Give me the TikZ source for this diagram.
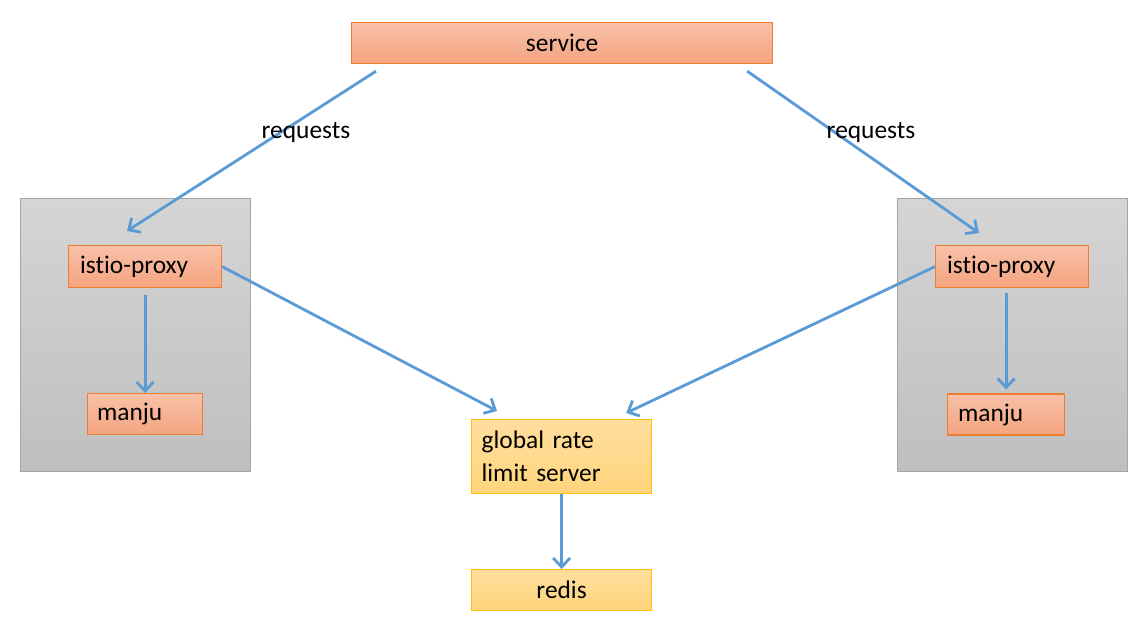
\documentclass[tikz,border=0pt]{standalone}
\usepackage{fontspec}
\setmainfont[Ligatures=NoCommon]{Carlito}
\usetikzlibrary{arrows.meta,calc}
\definecolor{boxtop}{HTML}{F8C1A8}
\definecolor{boxbot}{HTML}{F4A47F}
\definecolor{boxline}{HTML}{ED7D31}
\definecolor{podtop}{HTML}{D5D5D5}
\definecolor{podbot}{HTML}{BFBFBF}
\definecolor{podline}{HTML}{A5A5A5}
\definecolor{srvtop}{HTML}{FFDE9E}
\definecolor{srvbot}{HTML}{FFD57C}
\definecolor{srvline}{HTML}{FFC000}
\definecolor{flowblue}{HTML}{5B9BD5}
\begin{document}
\begin{tikzpicture}[x=0.5pt,y=-0.5pt,
    font=\fontsize{12.7}{16.5}\selectfont,
    box/.style={draw=boxline,line width=0.6pt,top color=boxtop,bottom color=boxbot,anchor=north west,inner sep=0pt},
    pod/.style={draw=podline,line width=0.6pt,top color=podtop,bottom color=podbot,anchor=north west,inner sep=0pt},
    srv/.style={draw=srvline,line width=0.6pt,top color=srvtop,bottom color=srvbot,anchor=north west,inner sep=0pt},
    flow/.style={draw=flowblue,line width=1.4pt,-{Straight Barb[length=4.5pt,width=8.5pt]}}]
    \fill[white] (0,0) rectangle (1146,624);
    \useasboundingbox (0,0) rectangle (1146,624);
    \node[box,minimum width=210.5pt,minimum height=20.5pt] (service) at (351,22) {service};
    \node[pod,minimum width=115pt,minimum height=136.5pt] (lpod) at (20,198) {};
    \node[pod,minimum width=115pt,minimum height=136.5pt] (rpod) at (897,198) {};
    \node[box,minimum width=76.5pt,minimum height=21pt,text width=65pt,inner xsep=5.5pt,align=left] (lproxy) at (68,245) {istio-proxy};
    \node[box,minimum width=76.5pt,minimum height=21pt,text width=65pt,inner xsep=5.75pt,align=left] (rproxy) at (935,245) {istio-proxy};
    \node[box,minimum width=57.5pt,minimum height=20.5pt,text width=48pt,inner xsep=4.75pt,align=left] (lmanju) at (87,393) {manju};
    \node[box,minimum width=57.5pt,minimum height=20.5pt,text width=48pt,inner xsep=5.25pt,align=left] (rmanju) at (947,393.5) {manju};
    \node[srv,minimum width=90pt,minimum height=37pt,text width=80pt,inner xsep=5pt,align=left] (ratelimit) at (471,419) {global rate\\limit server};
    \node[srv,minimum width=90pt,minimum height=20.5pt] (redis) at (471,569) {redis};
    \draw[flow] ($(service.south west)+(25,7)$) -- ($(lproxy.north west)+(59,-14)$);
    \draw[flow] ($(service.south east)+(-26,7)$) -- ($(rproxy.north west)+(44,-12)$);
    \draw[flow] (lproxy.east) -- ($(ratelimit.north west)+(26,-8)$);
    \draw[flow] (rproxy.west) -- ($(ratelimit.north east)+(-26,-6)$);
    \draw[flow,shorten <=3.5pt] (lproxy.south) -- (lmanju.north);
    \draw[flow,shorten <=2.5pt,shorten >=2pt] (rmanju.north |- rproxy.south) -- (rmanju.north);
    \draw[flow] (ratelimit.south) -- (redis.north);
    \node (lreq) at (306,133) {requests};
    \node (rreq) at (871,133) {requests};
\end{tikzpicture}
\end{document}
